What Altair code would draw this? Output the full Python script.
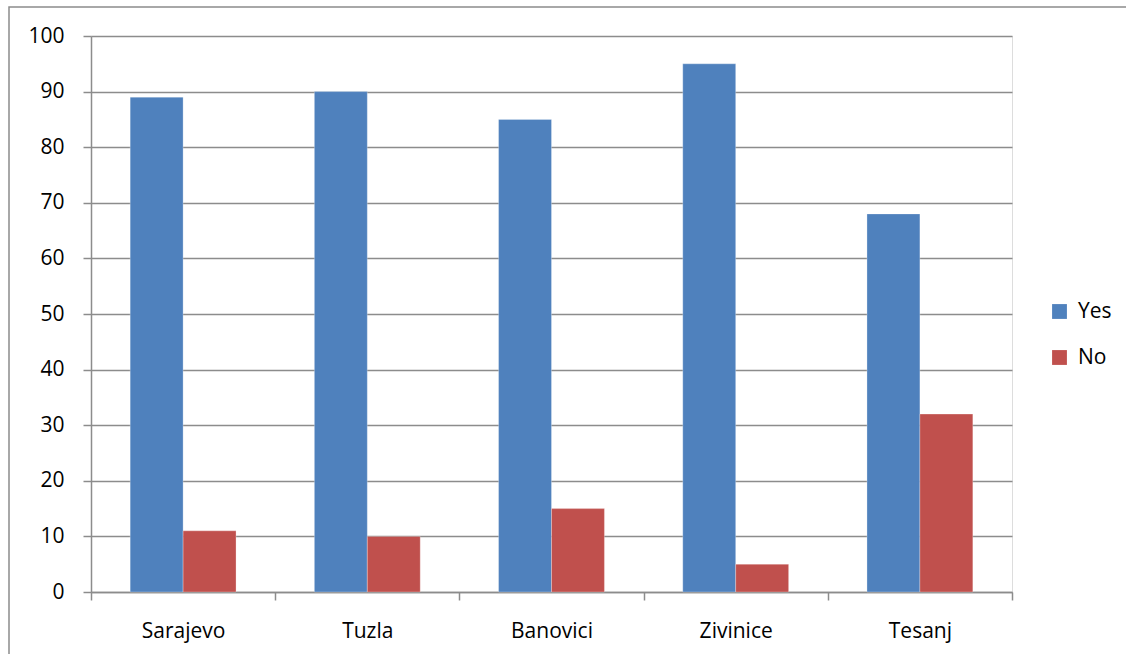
import altair as alt
import pandas as pd

cities = ["Sarajevo", "Tuzla", "Banovici", "Zivinice", "Tesanj"]
yes_vals = [89, 90, 85, 95, 68]
no_vals = [11, 10, 15, 5, 32]
series = ["Yes", "No"]
colors = ["#4F81BD", "#C0504D"]

rows = []
for c, y, n in zip(cities, yes_vals, no_vals):
    rows.append({"city": c, "answer": "Yes", "value": y})
    rows.append({"city": c, "answer": "No", "value": n})
df = pd.DataFrame(rows)

FONT = "Open Sans"
GRID = "#8c8c8c"
FS = 21

bars = alt.Chart(df).mark_bar(stroke="#ffffff", strokeOpacity=0.35, strokeWidth=0.8).encode(
    x=alt.X("city:N", sort=cities, title=None,
            scale=alt.Scale(paddingInner=0, paddingOuter=0),
            axis=alt.Axis(labelAngle=0, tickBand="extent", tickSize=8, tickColor=GRID,
                          domainColor=GRID, domainWidth=1.5, tickWidth=1.5,
                          labelPadding=20, labelFont=FONT, labelFontSize=FS,
                          labelColor="#000000", grid=False)),
    xOffset=alt.XOffset("answer:N", sort=series,
                        scale=alt.Scale(paddingInner=0, paddingOuter=0.74)),
    y=alt.Y("value:Q", title=None,
            scale=alt.Scale(domain=[0, 100]),
            axis=alt.Axis(values=list(range(0, 101, 10)), tickSize=8, tickColor=GRID,
                          tickWidth=1.5, domainColor=GRID, domainWidth=1.5,
                          gridColor=GRID, gridWidth=1.5, labelPadding=19,
                          labelFont=FONT, labelFontSize=FS, labelColor="#000000")),
    color=alt.Color("answer:N", sort=series,
                    scale=alt.Scale(domain=series, range=colors),
                    legend=alt.Legend(title=None, orient="none", legendX=958, legendY=265,
                                      symbolType="square", symbolSize=220,
                                      symbolStrokeWidth=0, labelFont=FONT,
                                      labelFontSize=FS, labelColor="#000000",
                                      rowPadding=24, labelOffset=8)),
)

border = alt.Chart(pd.DataFrame({"k": [0]})).mark_rect(
    fill=None, stroke="#8c8c8c", strokeWidth=1.5, clip=False
).encode(
    x=alt.value(-82), x2=alt.value(1100), y=alt.value(-29), y2=alt.value(700)
)

chart = alt.layer(border, bars).properties(
    width=921, height=556,
    autosize=alt.AutoSizeParams(type="none"),
    padding={"left": 91, "top": 36, "right": 114, "bottom": 62},
).configure_view(stroke=None).configure(background="#ffffff")

chart.save("out.html", embed_options={"renderer": "svg", "actions": False})
